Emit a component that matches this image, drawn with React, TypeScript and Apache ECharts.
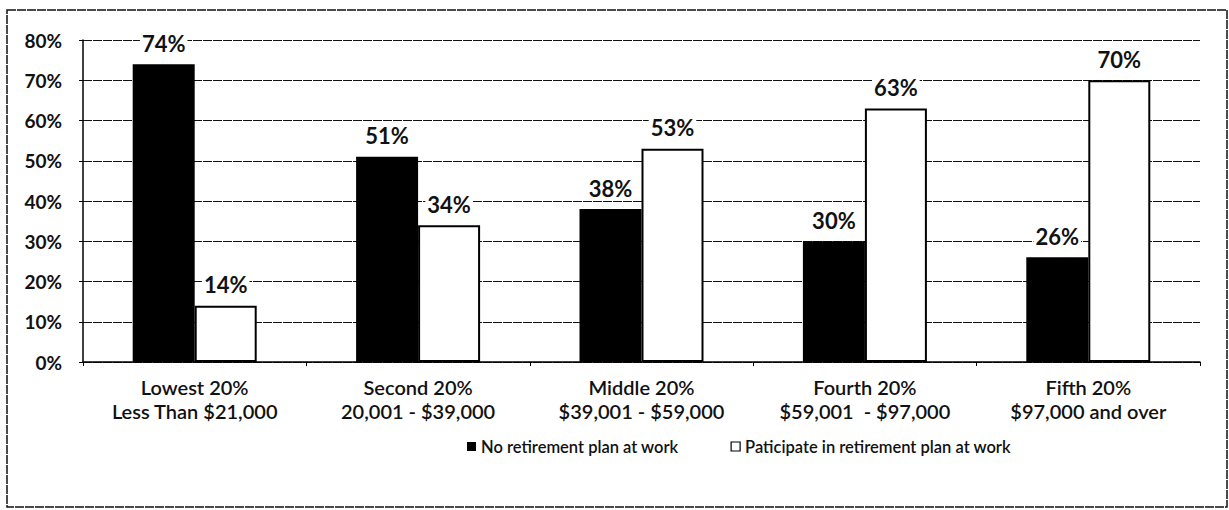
import React, { useEffect, useRef } from "react";
import * as echarts from "echarts";

const categories = [
  "Lowest 20%\nLess Than $21,000",
  "Second 20%\n20,001 - $39,000",
  "Middle 20%\n$39,001 - $59,000",
  "Fourth 20%\n$59,001  - $97,000",
  "Fifth 20%\n$97,000 and over",
];
const noPlan = [74, 51, 38, 30, 26];
const participate = [14, 34, 53, 63, 70];
const seriesNames = ["No retirement plan at work", "Paticipate in retirement plan at work"];

const FONT = "Lato";

export default function App() {
  const ref = useRef<HTMLDivElement>(null);
  useEffect(() => {
    const chart = echarts.init(ref.current!, null, { renderer: "svg" });
    const labelCfg = {
      show: true,
      position: "top",
      distance: 10,
      formatter: "{c}%",
      fontFamily: FONT,
      fontWeight: "bold",
      fontSize: 22,
      color: "#111",
      backgroundColor: "#fff",
      padding: [1, 2, 0, 2],
    };
    chart.setOption({
      animation: false,
      backgroundColor: "#fff",
      textStyle: { fontFamily: FONT },
      grid: { left: 83, right: 29, top: 40, bottom: 148, containLabel: false },
      legend: {
        top: 433,
        left: 462,
        itemWidth: 9,
        itemHeight: 9,
        itemGap: 52,
        icon: "rect",
        textStyle: { fontFamily: FONT, fontSize: 16.5, color: "#111", fontWeight: 600 },
        data: [
          { name: seriesNames[0], itemStyle: { color: "#000", borderWidth: 0 } },
          { name: seriesNames[1], itemStyle: { color: "#fff", borderColor: "#000", borderWidth: 1.2 } },
        ],
      },
      xAxis: {
        type: "category",
        data: categories,
        axisLine: { lineStyle: { color: "#000", width: 1.5 } },
        axisTick: { show: true, length: 4, lineStyle: { color: "#000" } },
        axisLabel: {
          fontFamily: FONT,
          fontSize: 20,
          fontWeight: 600,
          color: "#111",
          lineHeight: 24,
          margin: 13,
        },
      },
      yAxis: {
        type: "value",
        min: 0,
        max: 80,
        interval: 10,
        axisLine: { show: true, lineStyle: { color: "#000", width: 1.5 } },
        axisTick: { show: true, length: 4, lineStyle: { color: "#000" } },
        axisLabel: {
          formatter: "{value}%",
          fontFamily: FONT,
          fontSize: 19,
          fontWeight: "bold",
          color: "#111",
          margin: 21,
        },
        splitLine: { show: true, lineStyle: { color: "#111", width: 1.2, type: [9, 1] } },
      },
      series: [
        {
          name: seriesNames[0],
          type: "bar",
          data: noPlan,
          barWidth: 62,
          barGap: "0%",
          itemStyle: { color: "#000" },
          label: labelCfg,
        },
        {
          name: seriesNames[1],
          type: "bar",
          data: participate,
          barWidth: 62,
          barGap: "0%",
          itemStyle: { color: "#fff", borderColor: "#000", borderWidth: 2 },
          label: labelCfg,
        },
      ],
      graphic: [
        {
          type: "rect",
          shape: { x: 7, y: 10, width: 1220, height: 497 },
          style: { fill: "none", stroke: "#111", lineWidth: 1.5, lineDash: [9, 1] },
          silent: true,
        },
      ],
    });
    return () => chart.dispose();
  }, []);
  return (
    <div
      ref={ref}
      style={{ position: "fixed", left: 0, top: 0, width: 1229, height: 510, background: "#fff" }}
    />
  );
}
